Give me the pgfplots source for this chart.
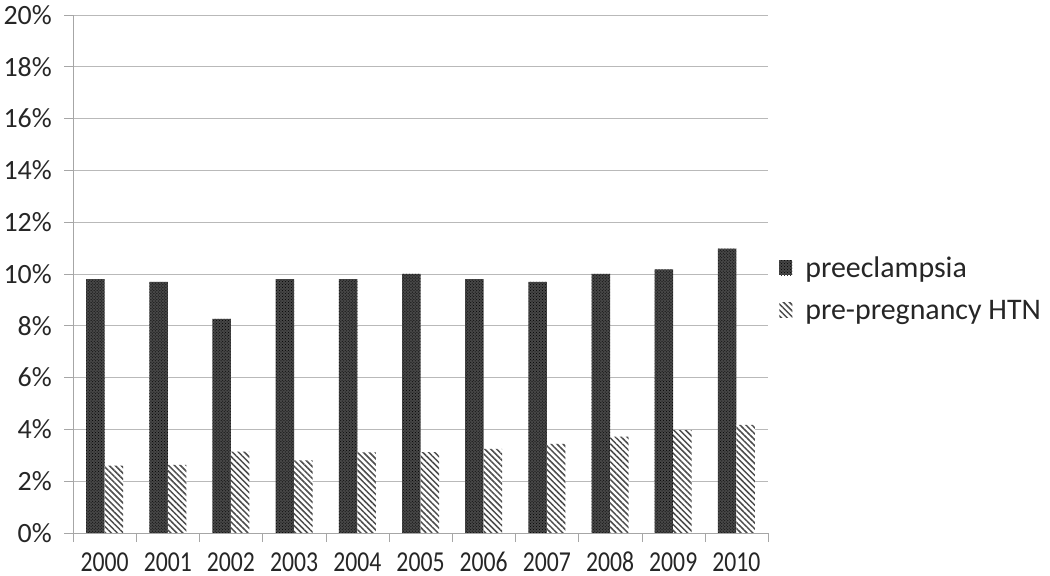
\documentclass[border=0pt]{standalone}
\usepackage{fontspec}
\setmainfont{Carlito}
\usepackage{pgfplots}
\pgfplotsset{compat=1.18}
\usetikzlibrary{patterns, patterns.meta}

\begin{document}
\begin{tikzpicture}
\path[use as bounding box] (0,0) rectangle (1050bp,576bp);
\begin{axis}[
    at={(73bp,43bp)}, anchor=south west,
    scale only axis,
    width=695bp, height=518bp,
    ybar=0pt, bar width=18.5bp,
    xmin=-0.5, xmax=10.5,
    ymin=0, ymax=20,
    xtick={0,...,10},
    xticklabel={\scalebox{0.82}[1]{\pgfmathparse{int(2000+\tick)}\pgfmathresult}},
    major x tick style={draw=none},
    minor xtick={-0.5,0.5,...,10.5},
    minor x tick style={gray!70},
    ytick={0,2,...,20},
    yticklabel={\pgfmathprintnumber{\tick}\%},
    /pgf/number format/assume math mode=true,
    ymajorgrids, grid style={gray!55, line width=0.9pt},
    axis x line=bottom, axis y line=left,
    axis line style={gray!70, line width=0.9pt, -},
    tick align=outside,
    major tick length=9bp, minor tick length=9bp,
    y tick style={gray!70, line width=0.9pt},
    xticklabel style={font=\fontsize{29}{33}\selectfont, text=black!85,
        inner sep=0pt, text height=19bp, text depth=0bp, yshift=-10bp},
    yticklabel style={font=\fontsize{28}{32}\selectfont, text=black!85,
        inner sep=0pt, xshift=-12bp},
    legend style={at={(1.016,0.467)}, anchor=west, draw=none,
        font=\fontsize{30}{34}\selectfont, text=black!85,
        row sep=15bp, column sep=13bp, inner sep=0pt,
        nodes={inner sep=0pt, text height=21bp, text depth=6bp}},
    legend cell align=left,
    legend image code/.code={\draw[#1, draw=none] (0bp,-5bp) rectangle (13bp,10bp);},
]
\addplot[fill=black!72, draw=none, postaction={pattern=crosshatch dots, pattern color=black}]
coordinates {(0,9.8) (1,9.7) (2,8.27) (3,9.8) (4,9.8) (5,10.0) (6,9.8) (7,9.7) (8,10.0) (9,10.18) (10,10.98)};
\addlegendentry{preeclampsia}
\addplot[fill=white, draw=none, postaction={pattern={Lines[angle=-45, distance=4.2bp, line width=1.5bp]}, pattern color=black!70}]
coordinates {(0,2.6) (1,2.63) (2,3.14) (3,2.8) (4,3.11) (5,3.12) (6,3.25) (7,3.44) (8,3.72) (9,3.97) (10,4.17)};
\addlegendentry{pre-pregnancy HTN}
\end{axis}
\end{tikzpicture}
\end{document}
